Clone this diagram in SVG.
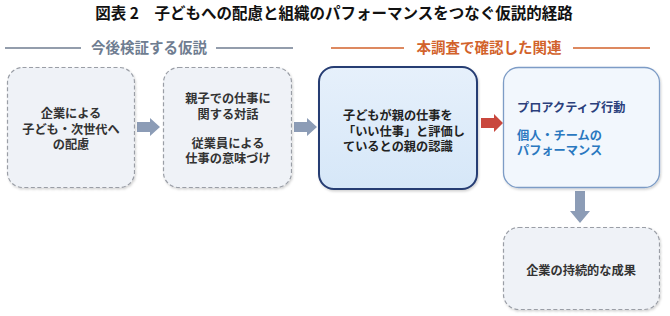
<svg xmlns="http://www.w3.org/2000/svg" width="670" height="316" viewBox="0 0 670 316">
<style>
.t{font-family:"Noto Sans CJK JP","Noto Sans CJK SC",sans-serif;}
.title{font-size:15.5px;font-weight:bold;fill:#111;}
.h{font-size:14.5px;font-weight:bold;}
.b{font-size:12.2px;font-weight:bold;fill:#333;}
.dash{fill:#eff2f7;stroke:#9a9ea6;stroke-width:1.2;stroke-dasharray:4 2.5;}
.ga{fill:#8c9cb6;}
</style>
<defs>
<filter id="sh" x="-10%" y="-10%" width="130%" height="130%">
<feDropShadow dx="1" dy="1.5" stdDeviation="1.2" flood-color="#000" flood-opacity="0.18"/>
</filter>
<linearGradient id="g3" x1="0" y1="0" x2="0" y2="1">
<stop offset="0" stop-color="#e6f0fb"/>
<stop offset="1" stop-color="#d6e7f8"/>
</linearGradient>
</defs>
<text class="t title" x="334" y="19" text-anchor="middle">図表 2　子どもへの配慮と組織のパフォーマンスをつなぐ仮説的経路</text>
<g id="header-left">
<line x1="5" y1="48" x2="81" y2="48" stroke="#6f7d91" stroke-width="1.6"/>
<line x1="216" y1="48" x2="293" y2="48" stroke="#6f7d91" stroke-width="1.6"/>
<text class="t h" x="149" y="53" text-anchor="middle" fill="#6f7d91">今後検証する仮説</text>
</g>
<g id="header-right">
<line x1="331" y1="48" x2="404" y2="48" stroke="#d2622b" stroke-width="1.6"/>
<line x1="573" y1="48" x2="650" y2="48" stroke="#d2622b" stroke-width="1.6"/>
<text class="t h" x="489" y="53" text-anchor="middle" fill="#d2622b">本調査で確認した関連</text>
</g>
<g id="connectors">
<polygon class="ga" points="137,122 150,122 150,118 160,127 150,136 150,132 137,132"/>
<polygon class="ga" points="294,122 307,122 307,118 317,127 307,136 307,132 294,132"/>
<polygon fill="#c9473d" points="481,118 494,118 494,114 503,123 494,132 494,128 481,128"/>
<polygon class="ga" points="575,191 585,191 585,211 590,211 580,223 570,211 575,211"/>
</g>
<g id="node1">
<rect class="dash" x="7.5" y="67.5" width="127" height="120" rx="15" filter="url(#sh)"/>
<text class="t b" x="71" y="117.5" text-anchor="middle">企業による</text>
<text class="t b" x="71" y="133.5" text-anchor="middle">子ども・次世代へ</text>
<text class="t b" x="71" y="149" text-anchor="middle">の配慮</text>
</g>
<g id="node2">
<rect class="dash" x="163.5" y="67.5" width="128" height="120" rx="15" filter="url(#sh)"/>
<text class="t b" x="228" y="102.5" text-anchor="middle">親子での仕事に</text>
<text class="t b" x="228" y="118.5" text-anchor="middle">関する対話</text>
<text class="t b" x="228" y="147.5" text-anchor="middle">従業員による</text>
<text class="t b" x="228" y="163" text-anchor="middle">仕事の意味づけ</text>
</g>
<g id="node3">
<rect x="319" y="67" width="158" height="122" rx="15" fill="url(#g3)" stroke="#263d73" stroke-width="2" filter="url(#sh)"/>
<text class="t b" x="343" y="119.5" style="fill:#222">子どもが親の仕事を</text>
<text class="t b" x="343" y="135.5" style="fill:#222">「いい仕事」と評価し</text>
<text class="t b" x="343" y="151" style="fill:#222">ているとの親の認識</text>
</g>
<g id="node4">
<rect x="503.5" y="67.5" width="156" height="120" rx="15" fill="#f2f7fd" stroke="#7d9cc6" stroke-width="1.3" filter="url(#sh)"/>
<text class="t b" x="517" y="111.5" style="fill:#2b3f7c">プロアクティブ行動</text>
<text class="t b" x="517" y="139.5" style="fill:#2a78c0">個人・チームの</text>
<text class="t b" x="517" y="155" style="fill:#2a78c0">パフォーマンス</text>
</g>
<g id="node5">
<rect class="dash" x="503.5" y="227.5" width="156" height="82" rx="15" filter="url(#sh)"/>
<text class="t b" x="581" y="274.5" text-anchor="middle">企業の持続的な成果</text>
</g>
</svg>
